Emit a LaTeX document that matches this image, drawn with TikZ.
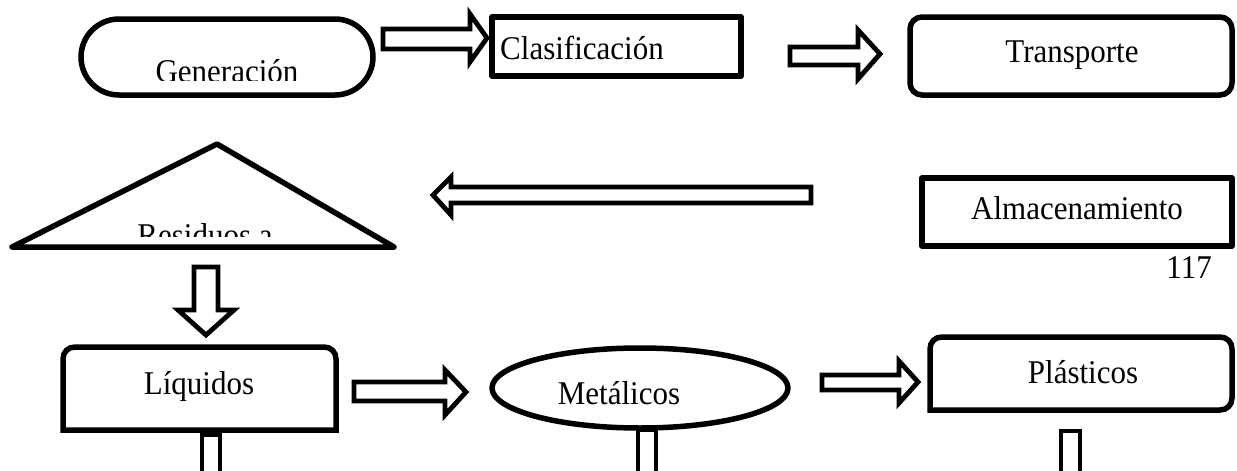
\documentclass[tikz,border=0pt]{standalone}
\usepackage{fontspec}
\setmainfont{Liberation Serif}
\usetikzlibrary{shapes.geometric}
\newcommand{\talltext}[1]{\scalebox{1}[1.07]{#1}}
\tikzset{
  shapeline/.style={draw=black, line width=5.5pt, line join=round},
  boxnode/.style={shapeline, rectangle, inner sep=0pt},
  blockarrow/.style={draw=black, line width=4.8pt, fill=white, line join=miter},
  lbl/.style={font=\fontsize{31}{36}\selectfont, inner sep=0pt, anchor=base},
}
\begin{document}
\begin{tikzpicture}[x=1pt,y=-1pt]
\useasboundingbox (0,0) rectangle (1237,471);
\clip (0,0) rectangle (1237,471);
\fill[white] (0,0) rectangle (1237,471);

% shafts of the cut-off arrows at the bottom
\draw[blockarrow] (202,435) rectangle (220,490);
\draw[blockarrow] (638,430) rectangle (656,490);
\draw[blockarrow] (1061,431) rectangle (1080,490);

% shapes
\node[boxnode, rounded corners=38pt, minimum width=292pt, minimum height=76pt] (gen) at (227,57) {};
\node[boxnode, minimum width=249pt, minimum height=59pt] (cla) at (616.5,46.5) {};
\node[boxnode, rounded corners=12pt, minimum width=322pt, minimum height=78pt] (tra) at (1071,56) {};
\node[boxnode, minimum width=310pt, minimum height=68pt] (alm) at (1077,212) {};
\node[shapeline, ellipse, minimum width=296pt, minimum height=80pt, inner sep=0pt, fill=white] (met) at (640,388) {};

% triangle
\draw[shapeline] (12,247) -- (217,144) -- (394,247) -- cycle;

% Liquidos (top corners rounded)
\draw[shapeline, line join=miter] (63,430) -- (63,359) .. controls (63,352) and (68,347) .. (75,347) -- (324,347) .. controls (331,347) and (336,352) .. (336,359) -- (336,430) -- cycle;

% Plasticos (bottom-left corner square)
\draw[shapeline, line join=miter] (930,410) -- (930,349) .. controls (930,342) and (935,337) .. (942,337) -- (1220,337) .. controls (1227,337) and (1232,342) .. (1232,349) -- (1232,398) .. controls (1232,405) and (1227,410) .. (1220,410) -- cycle;

% block arrows
\draw[blockarrow] (383,29) -- (470,29) -- (470,14) -- (487,38) -- (470,62) -- (470,49) -- (383,49) -- cycle;
\draw[blockarrow] (790,47) -- (858,47) -- (858,30) -- (880,54) -- (858,79) -- (858,65) -- (790,65) -- cycle;
\draw[blockarrow] (811,187) -- (451,187) -- (451,177) -- (433,195) -- (451,215) -- (451,203) -- (811,203) -- cycle;
\draw[blockarrow] (194,267) -- (218,267) -- (218,310) -- (234,310) -- (206,335) -- (178,310) -- (194,310) -- cycle;
\draw[blockarrow] (354,382) -- (445,382) -- (445,370) -- (466,392) -- (445,415) -- (445,401) -- (354,401) -- cycle;
\draw[blockarrow] (822,375) -- (899,375) -- (899,361) -- (918,382) -- (899,403) -- (899,390) -- (822,390) -- cycle;

% texts
\begin{scope}
\clip (80,20) rectangle (375,80);
\node[lbl] (tgen) at (227,82) {\talltext{Generación}};
\end{scope}
\begin{scope}
\clip (20,150) rectangle (390,236);
\node[lbl] (tres) at (205,246) {\talltext{Residuos a}};
\end{scope}
\node[lbl, anchor=base west] (tcla) at (500,59) {\talltext{Clasificación}};
\node[lbl] (ttra) at (1072,62) {\talltext{Transporte}};
\node[lbl] (talm) at (1077,219) {\talltext{Almacenamiento}};
\node[lbl, anchor=base east] (tnum) at (1212,278) {\talltext{117}};
\node[lbl] (tliq) at (199,394) {\talltext{Líquidos}};
\node[lbl] (tmet) at (619,404) {\talltext{Metálicos}};
\node[lbl] (tpla) at (1083,383) {\talltext{Plásticos}};
\end{tikzpicture}
\end{document}
